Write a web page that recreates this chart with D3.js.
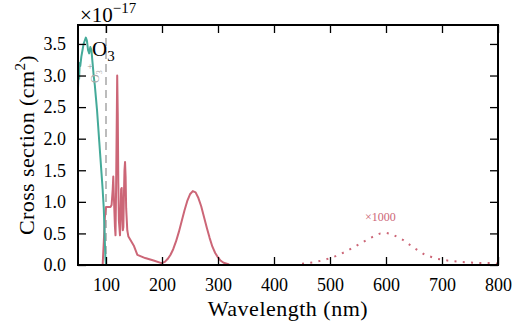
<!DOCTYPE html>
<html><head><meta charset="utf-8">
<script src="https://cdn.jsdelivr.net/npm/d3@7"></script>
</head>
<body style="margin:0">
<svg id="chart" width="525" height="324" style="display:block;background:#fff;font-family:'Liberation Serif'"></svg>
<script>
// ---- data (cross sections in units of 1e-17 cm^2) ----
const o3Wl = [50,51,52,53,54,56,58,60,62,64,66,68,70,72,74,76,78,80,82,84,86,88,90,92,94,95,96,97,98,99,100,200,300,400,500,600,700,800];
const o3Xs = [2.8,3.05,2.95,3.2,3.15,3.3,3.4,3.5,3.55,3.6,3.55,3.4,3.35,3.45,3.4,3.2,3.0,2.85,2.65,2.45,2.2,1.95,1.7,1.45,1.2,1.05,0.9,0.65,0.35,0.1,0,0,0,0,0,0,0,0];

const hartleyWl = [50,90,94,96,98,100,104,108,110,112,113,114,116,117,118,120,121,122,123,125,126,127,128,129,130,131,132,133,134,135,136,138,140,150,156,170,185,199,205,210,215,220,225,230,235,240,245,250,255,260,265,270,275,280,285,290,295,300,305,310,320];
const hartleyXs = [0,0,0,0.35,0.75,0.92,0.92,0.92,0.95,1.2,1.4,1.1,0.6,0.47,1.2,3.0,2.4,1.3,0.7,0.47,0.8,1.2,1.22,0.8,0.55,0.6,1.1,1.5,1.63,1.4,0.9,0.55,0.45,0.3,0.16,0.11,0.07,0.03,0.05,0.094,0.158,0.25,0.373,0.52,0.69,0.86,1.01,1.12,1.17,1.15,1.06,0.93,0.76,0.59,0.43,0.29,0.19,0.12,0.067,0.035,0.01];

// Chappuis band, multiplied by 1000
const chapWl = [450,470,490,510,530,550,570,590,600,610,630,650,670,690,710,730,750,770,790,800];
const chapXs = [0.02,0.04,0.08,0.14,0.22,0.32,0.42,0.5,0.51,0.49,0.4,0.27,0.16,0.1,0.07,0.05,0.04,0.03,0.03,0.02];

const xTicks = [100,200,300,400,500,600,700,800];
const yTicks = [0,0.5,1.0,1.5,2.0,2.5,3.0,3.5];
const edgeWl = 100;

const teal = "#44AA99", rose = "#CC6677";

const svg = d3.select("#chart");
const L = 78, R = 498, T = 25, B = 265;
const x = d3.scaleLinear().domain([50,800]).range([L,R]);
const y = d3.scaleLinear().domain([0,3.8]).range([B,T]);

const line = (wl, xs) => d3.line().x((d,i)=>x(wl[i])).y((d,i)=>y(xs[i]))(xs);

// dashed vertical line
svg.append("line").attr("x1",x(edgeWl)).attr("x2",x(edgeWl)).attr("y1",T).attr("y2",B)
  .attr("stroke","#999").attr("stroke-width",1.3).attr("stroke-dasharray","8,5");

svg.append("path").attr("d",line(hartleyWl,hartleyXs)).attr("fill","none")
  .attr("stroke",rose).attr("stroke-width",2).attr("stroke-linejoin","round");
svg.append("path").attr("d",line(chapWl,chapXs)).attr("fill","none")
  .attr("stroke",rose).attr("stroke-width",2).attr("stroke-dasharray","2,6.3");
svg.append("path").attr("d",line(o3Wl,o3Xs)).attr("fill","none")
  .attr("stroke",teal).attr("stroke-width",2).attr("stroke-linejoin","round");

// axes
const fs = 18;
const xb = svg.append("g").attr("transform",`translate(0,${B})`)
  .call(d3.axisBottom(x).tickValues(xTicks).tickSizeInner(-8).tickSizeOuter(0).tickPadding(13).tickFormat(d3.format("d")));
const xt = svg.append("g").attr("transform",`translate(0,${T})`)
  .call(d3.axisTop(x).tickValues(xTicks).tickSizeInner(-8).tickSizeOuter(0).tickFormat(""));
const yl = svg.append("g").attr("transform",`translate(${L},0)`)
  .call(d3.axisLeft(y).tickValues(yTicks).tickSizeInner(-8).tickSizeOuter(0).tickPadding(14).tickFormat(d3.format(".1f")));
const yr = svg.append("g").attr("transform",`translate(${R},0)`)
  .call(d3.axisRight(y).tickValues(yTicks).tickSizeInner(-8).tickSizeOuter(0).tickFormat(""));
[xb,xt,yl,yr].forEach(g=>{
  g.attr("font-family",null).attr("font-size",fs);
  g.select(".domain").remove();
  g.selectAll(".tick line").attr("stroke","#000").attr("stroke-width",1.3);
  g.selectAll("text").attr("fill","#000");
});
yl.selectAll("text").attr("dx",2);
svg.append("rect").attr("x",L).attr("y",T).attr("width",R-L).attr("height",B-T)
  .attr("fill","none").attr("stroke","#000").attr("stroke-width",2);

const txt = (sel, size, color) => sel.attr("font-size",size).attr("fill",color||"#000");

// labels
txt(svg.append("text").attr("x",(L+R)/2).attr("y",316).attr("text-anchor","middle"),22)
  .attr("letter-spacing","0.5").text("Wavelength (nm)");
const yt = txt(svg.append("text").attr("transform",`translate(34,${(T+B)/2}) rotate(-90)`)
  .attr("text-anchor","middle"),22).attr("letter-spacing","0.4");
yt.append("tspan").text("Cross section (cm");
yt.append("tspan").attr("font-size",15).attr("dy",-9).text("2");
yt.append("tspan").attr("dy",9).text(")");

// multiplier
const m = txt(svg.append("text").attr("x",80).attr("y",22),21);
m.append("tspan").text("×10");
m.append("tspan").attr("font-size",15).attr("dy",-9).text("−17");

// O3 label
const o = txt(svg.append("text").attr("x",92).attr("y",56),21);
o.append("tspan").text("O");
o.append("tspan").attr("font-size",15).attr("dy",5).text("3");

// small grey rotated label and marker
txt(svg.append("text").attr("x",90).attr("y",70).attr("text-anchor","middle"),10,"#999").text("+");
const g2 = txt(svg.append("text").attr("transform","translate(99,83) rotate(-90)"),12,"#aaa");
g2.append("tspan").text("O");
g2.append("tspan").attr("font-size",8).attr("dy",3).text("3");

// x1000 label
txt(svg.append("text").attr("x",x(590)).attr("y",221).attr("text-anchor","middle"),12,rose).text("×1000");
</script>
</body></html>
